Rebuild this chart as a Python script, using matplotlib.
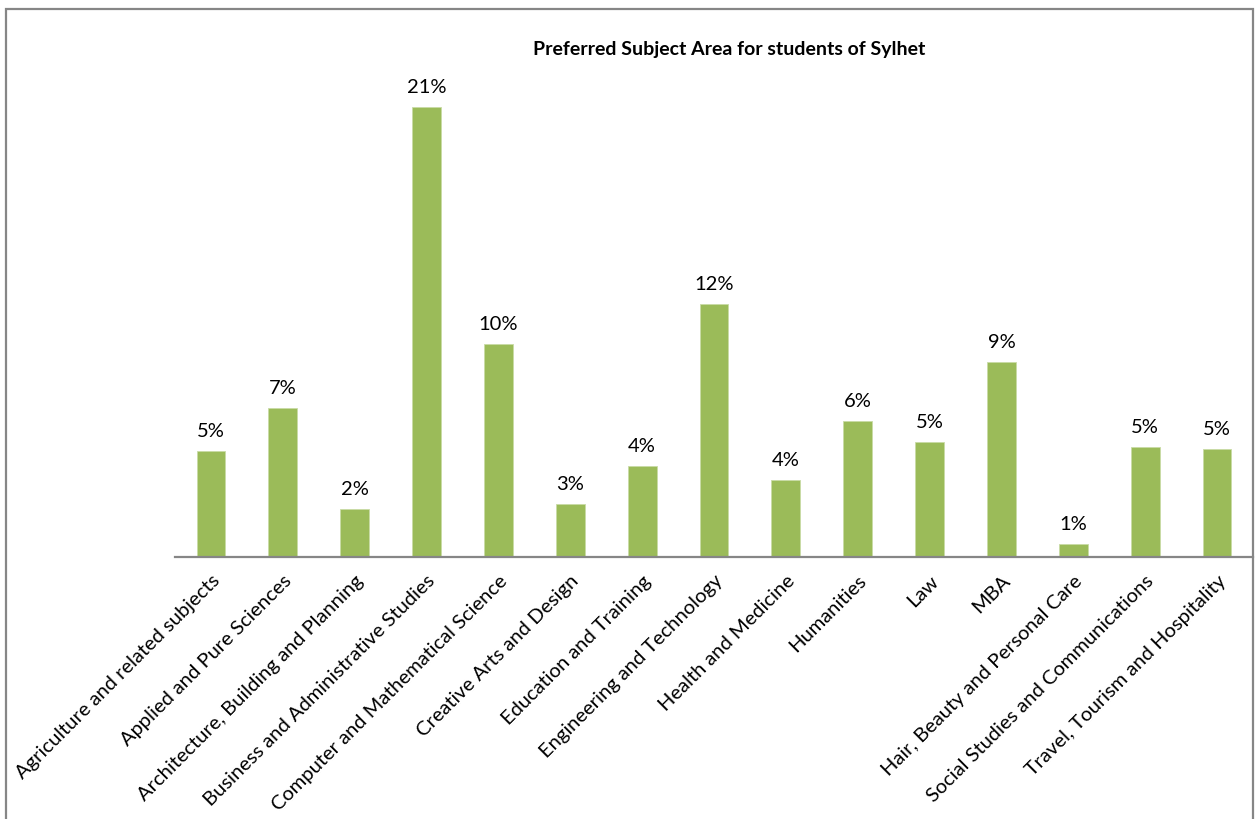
import matplotlib
matplotlib.use("Agg")
import matplotlib.pyplot as plt
from matplotlib.patches import Rectangle

# ===== Data =====
subjects = [
    "Agriculture and related subjects",
    "Applied and Pure Sciences",
    "Architecture, Building and Planning",
    "Business and Administrative Studies",
    "Computer and Mathematical Science",
    "Creative Arts and Design",
    "Education and Training",
    "Engineering and Technology",
    "Health and Medicine",
    "Humanities",
    "Law",
    "MBA",
    "Hair, Beauty and Personal Care",
    "Social Studies and Communications",
    "Travel, Tourism and Hospitality",
]
share_pct = [5.05, 7.11, 2.29, 21.43, 10.14, 2.52, 4.32, 12.05,
             3.65, 6.49, 5.48, 9.29, 0.62, 5.25, 5.14]

W, H = 1256, 819
plt.rcParams["font.family"] = ["Lato", "DejaVu Sans"]

fig = plt.figure(figsize=(W / 100, H / 100), dpi=100)
fig.patch.set_facecolor("white")

# plot area in pixel units
left, right, bottom, top = 175, 1253, 557, 32
ax = fig.add_axes([left / W, 1 - bottom / H, (right - left) / W, (bottom - top) / H])

x = range(len(subjects))
ax.bar(x, share_pct, width=0.4, color="#9BBB59", edgecolor="#C9DBA6", linewidth=0.6)

for i, v in enumerate(share_pct):
    ax.annotate(f"{v:.0f}%", (i, v), xytext=(0, 8), textcoords="offset points",
                ha="center", va="bottom", fontsize=14.5, color="black")

ax.set_xlim(-0.5, len(subjects) - 0.5)
ax.set_ylim(0, 25)
ax.set_yticks([])
ax.set_xticks(list(x))
ax.set_xticklabels(subjects, rotation=45, ha="right", va="top",
                   rotation_mode="anchor", fontsize=14.5)
ax.tick_params(axis="x", length=0, pad=11)

for s in ["top", "right", "left"]:
    ax.spines[s].set_visible(False)
ax.spines["bottom"].set_color("#868686")
ax.spines["bottom"].set_linewidth(1.6)

fig.text(729 / W, 1 - 50 / H, "Preferred Subject Area for students of Sylhet",
         fontsize=14, fontweight="bold", ha="center", va="center")

# chart border
fig.add_artist(Rectangle((6 / W, -0.05), (1253 - 6) / W, 1.05 - 9 / H,
                         transform=fig.transFigure, fill=False,
                         edgecolor="#868686", linewidth=1.6))

fig.savefig("out.png", dpi=100)
